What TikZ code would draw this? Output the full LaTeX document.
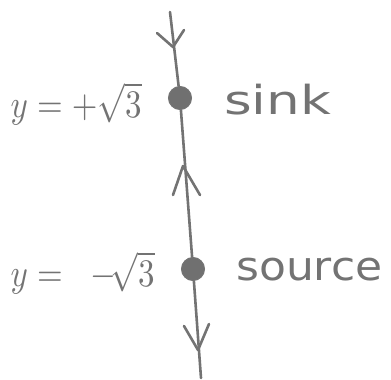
\documentclass[tikz,border=0pt]{standalone}
\usepackage{fontspec}
\newfontfamily\hand{DejaVu Sans}
\definecolor{ink}{RGB}{115,115,115}
\definecolor{dotc}{RGB}{112,112,112}
\begin{document}
\begin{tikzpicture}[x=1pt,y=-1pt,
  phase/.style={draw=ink,line width=2.6pt,line cap=round},
  vee/.style={draw=ink,line width=2.6pt,line cap=round,line join=round},
  eq/.style={text=ink,inner sep=0pt,xscale=3.3,yscale=3.9},
  word/.style={text=ink,inner sep=0pt,font=\hand\fontsize{40}{44}\selectfont},
  crit/.style={circle,fill=dotc,draw=ink,line width=1pt,minimum size=23pt,inner sep=0pt}]
\useasboundingbox (0,0) rectangle (391,380);
\coordinate (top) at (170,12);
\coordinate (bot) at (201,378);
\node[crit] (sink) at (180,98) {};
\node[crit] (source) at (193,269) {};
\draw[phase] (top) -- (sink) -- (source) -- (bot);
% arrowheads
\coordinate (t1) at (157,33); \coordinate (t2) at (173,47); \coordinate (t3) at (184,30);
\draw[vee] (t1) -- (t2) -- (t3);
\coordinate (m1) at (173,195); \coordinate (m2) at (183,166); \coordinate (m3) at (200,195);
\draw[vee] (m1) -- (m2) -- (m3);
\coordinate (b1) at (184,326); \coordinate (b2) at (198,350); \coordinate (b3) at (209,324);
\draw[vee] (b1) -- (b2) -- (b3);
% labels
\node[eq,anchor=west] (lsink) at (10,104) {$y=+\sqrt{3}$};
\node[eq,anchor=west] (lsource) at (10,273) {$y=\;\;-\!\sqrt{3}$};
\node[word,anchor=west,xscale=1.33] (wsink) at (224,100) {sink};
\node[word,anchor=west,xscale=1.1] (wsource) at (236,270) {source};
\end{tikzpicture}
\end{document}
